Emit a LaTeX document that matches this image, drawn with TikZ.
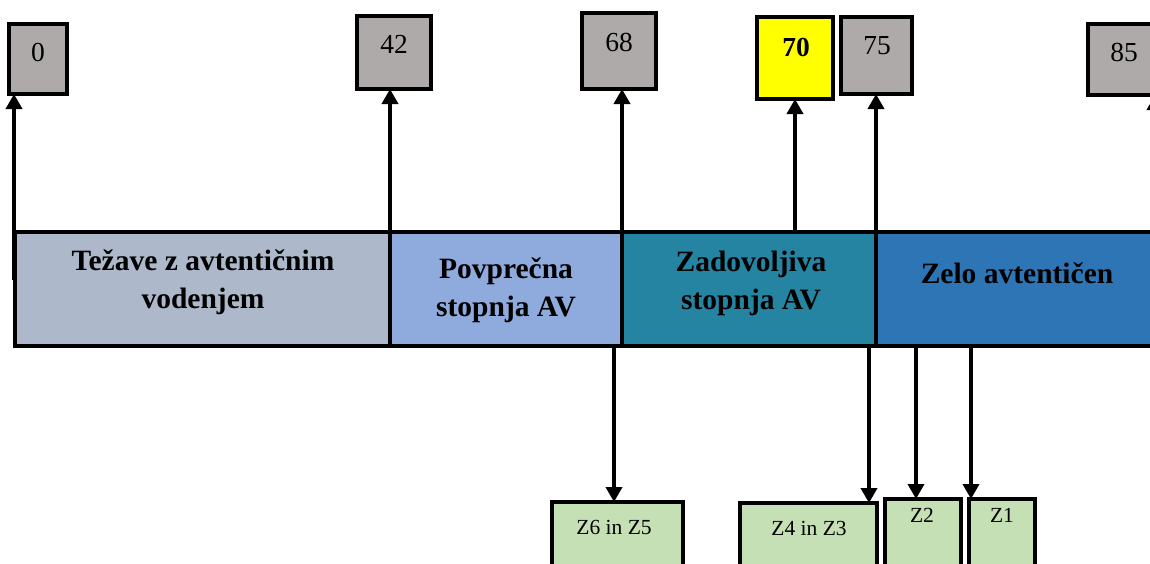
\documentclass[tikz,border=0pt]{standalone}
\usepackage{fontspec}
\setmainfont{Liberation Serif}
\usetikzlibrary{arrows.meta}

\definecolor{boxgray}{HTML}{AEAAAA}
\definecolor{segA}{HTML}{ADB9CA}
\definecolor{segB}{HTML}{8FAADC}
\definecolor{segC}{HTML}{2584A2}
\definecolor{segD}{HTML}{2E75B6}
\definecolor{zgreen}{HTML}{C5E0B4}
\definecolor{mark}{HTML}{FFFF00}

\begin{document}
\begin{tikzpicture}[x=1pt,y=-1pt,
  every node/.style={inner sep=0pt, outer sep=0pt},
  numbox/.style={draw=black, line width=3.2pt, fill=boxgray, anchor=north west},
  keybox/.style={draw=black, line width=4pt, fill=mark, anchor=north west},
  numtxt/.style={font=\fontsize{27.5}{32}\selectfont},
  keytxt/.style={font=\fontsize{27.5}{32}\selectfont\bfseries},
  segbox/.style={draw=black, line width=3.2pt, anchor=north west, minimum height=114},
  segtxt/.style={align=center, font=\fontsize{29.5}{38}\selectfont\bfseries},
  zbox/.style={draw=black, line width=3.2pt, fill=zgreen, anchor=north west, minimum height=80},
  ztxt/.style={font=\fontsize{21.5}{25}\selectfont},
  arr/.style={line width=3.6pt, -{Triangle[width=16pt,length=15pt]}}
]
\useasboundingbox (0,0) rectangle (1150,563);
\clip (0,0) rectangle (1150,563);

% scale bands
\node[segbox, fill=segA, minimum width=375] (seg1) at (15,232) {};
\node[segbox, fill=segB, minimum width=232] (seg2) at (390,232) {};
\node[segbox, fill=segC, minimum width=254] (seg3) at (622,232) {};
\node[segbox, fill=segD, minimum width=300] (seg4) at (876,232) {};

\node[segtxt] (l1) at (203,282) {Težave z avtentičnim\\vodenjem};
\node[segtxt] (l2) at (506,290) {Povprečna\\stopnja AV};
\node[segtxt] (l3) at (751,283) {Zadovoljiva\\stopnja AV};
\node[segtxt] (l4) at (1017,273) {Zelo avtentičen};

% threshold boxes
\node[numbox, minimum width=58, minimum height=70] (b0) at (9,24) {};
\node[numbox, minimum width=74, minimum height=73] (b42) at (357,16) {};
\node[numbox, minimum width=74, minimum height=76] (b68) at (582,13) {};
\node[keybox, minimum width=76, minimum height=82] (b70) at (757,17) {};
\node[numbox, minimum width=71, minimum height=77] (b75) at (841,17) {};
\node[numbox, minimum width=80, minimum height=71] (b85) at (1088,24) {};

\node[numtxt] (t0) at (38,52) {0};
\node[numtxt] (t42) at (394,44) {42};
\node[numtxt] (t68) at (619,42) {68};
\node[keytxt] (t70) at (796,47) {70};
\node[numtxt] (t75) at (877,46) {75};
\node[numtxt] (t85) at (1124,52) {85};

% arrows up to the thresholds
\coordinate (c0) at (14,280);
\coordinate (c85) at (1155,232);
\draw[arr] (c0) -- (c0 |- b0.south);
\draw[arr] (seg2.north west) -- (seg2.north west |- b42.south);
\draw[arr] (seg3.north west) -- (seg3.north west |- b68.south);
\draw[arr] (b70.south |- seg3.north) -- (b70.south);
\draw[arr] (seg4.north west) -- (seg4.north west |- b75.south);
\draw[arr] (c85) -- (c85 |- b85.south);

% group boxes below
\node[zbox, minimum width=131] (z65) at (552,502) {};
\node[zbox, minimum width=137] (z43) at (740,503) {};
\node[zbox, minimum width=76] (z2) at (885,499) {};
\node[zbox, minimum width=66] (z1) at (969,499) {};

\node[ztxt] (tz65) at (614,527) {Z6 in Z5};
\node[ztxt] (tz43) at (809,528) {Z4 in Z3};
\node[ztxt] (tz2) at (922,515) {Z2};
\node[ztxt] (tz1) at (1002,515) {Z1};

% arrows down to the groups
\coordinate (d1) at (614,346);
\coordinate (d2) at (869,346);
\coordinate (d3) at (916,344);
\coordinate (d4) at (971,346);
\draw[arr] (d1) -- (d1 |- z65.north);
\draw[arr] (d2) -- (d2 |- z43.north);
\draw[arr] (d3) -- (d3 |- z2.north);
\draw[arr] (d4) -- (d4 |- z1.north);
\end{tikzpicture}
\end{document}
